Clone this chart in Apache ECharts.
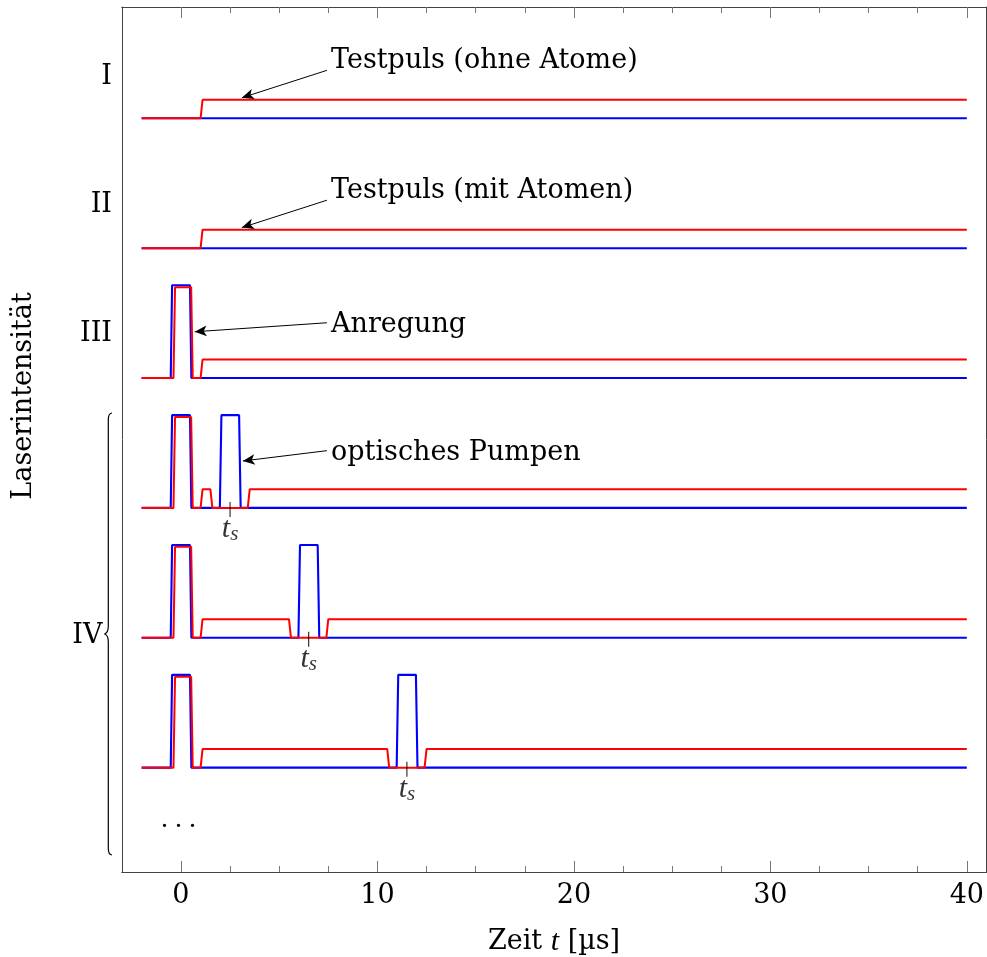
<!DOCTYPE html>
<html><head><meta charset="utf-8">
<script src="https://cdn.jsdelivr.net/npm/echarts@6/dist/echarts.min.js"></script>
<style>html,body{margin:0;padding:0;background:#fff}#c{width:987px;height:957px}</style>
</head><body><div id="c"></div>
<script>
const FONT = 'DejaVu Serif';
const MFONT = 'Liberation Serif';

// row baselines (vertical offsets of the six traces) and labels
const rowBase = [7, 5.6, 4.2, 2.8, 1.4, 0];
const rowNames = ['I', 'II', 'III', 'IV'];

// axis ticks
const xMajorTicks = [0, 10, 20, 30, 40];
const xMinorTicks = [2.5, 5, 7.5, 12.5, 15, 17.5, 22.5, 25, 27.5, 32.5, 35, 37.5];

// t_s marks: [time, row index]
const tsValues = [2.5, 6.5, 11.5];
const tsRows = [3, 4, 5];

// traces: [time in µs, intensity]
const redI   = [[-2,0],[1,0],[1.1,0.2],[40,0.2]];
const blueI  = [[-2,0],[40,0]];
const redII  = [[-2,0],[1,0],[1.1,0.2],[40,0.2]];
const blueII = [[-2,0],[40,0]];
const redIII = [[-2,0],[-0.38,0],[-0.3,0.98],[0.52,0.98],[0.6,0],[1,0],[1.1,0.2],[40,0.2]];
const blueIII= [[-2,0],[-0.52,0],[-0.45,1],[0.46,1],[0.53,0],[40,0]];
const redIVa = [[-2,0],[-0.38,0],[-0.3,0.98],[0.52,0.98],[0.6,0],[1,0],[1.1,0.2],[1.5,0.2],[1.6,0],[3.4,0],[3.5,0.2],[40,0.2]];
const blueIVa= [[-2,0],[-0.52,0],[-0.45,1],[0.46,1],[0.53,0],[1.98,0],[2.06,1],[2.96,1],[3.04,0],[40,0]];
const redIVb = [[-2,0],[-0.38,0],[-0.3,0.98],[0.52,0.98],[0.6,0],[1,0],[1.1,0.2],[5.5,0.2],[5.6,0],[7.4,0],[7.5,0.2],[40,0.2]];
const blueIVb= [[-2,0],[-0.52,0],[-0.45,1],[0.46,1],[0.53,0],[5.98,0],[6.06,1],[6.96,1],[7.04,0],[40,0]];
const redIVc = [[-2,0],[-0.38,0],[-0.3,0.98],[0.52,0.98],[0.6,0],[1,0],[1.1,0.2],[10.5,0.2],[10.6,0],[12.4,0],[12.5,0.2],[40,0.2]];
const blueIVc= [[-2,0],[-0.52,0],[-0.45,1],[0.46,1],[0.53,0],[10.98,0],[11.06,1],[11.96,1],[12.04,0],[40,0]];

const redTraces  = [redI, redII, redIII, redIVa, redIVb, redIVc];
const blueTraces = [blueI, blueII, blueIII, blueIVa, blueIVb, blueIVc];

// annotations: [from, to] in data coordinates, and their texts
const arrowLines = [
  [[7.43, 7.517], [3.1, 7.222]],
  [[7.43, 6.117], [3.1, 5.822]],
  [[7.43, 4.796], [0.7, 4.699]],
  [[7.43, 3.417], [3.15, 3.306]]
];
const annoTexts = ['Testpuls (ohne Atome)', 'Testpuls (mit Atomen)', 'Anregung', 'optisches Pumpen'];

const chart = echarts.init(document.getElementById('c'), null, {renderer: 'canvas'});

const series = [];
for (let i = 0; i < 6; i++) {
  series.push({
    type: 'line', data: blueTraces[i].map(p => [p[0], rowBase[i] + p[1]]),
    showSymbol: false, symbol: 'none', silent: true, animation: false,
    lineStyle: {color: '#0000ff', width: 2.1}, z: 2
  });
  series.push({
    type: 'line', data: redTraces[i].map(p => [p[0], rowBase[i] + p[1]]),
    showSymbol: false, symbol: 'none', silent: true, animation: false,
    lineStyle: {color: '#ff0000', width: 2}, z: 3
  });
}
series[1].markLine = {
  silent: true, animation: false,
  symbol: ['none', 'arrow'], symbolSize: [8, 12],
  lineStyle: {color: '#000', width: 1, type: 'solid'},
  label: {show: false}, emphasis: {disabled: true},
  data: arrowLines.map(l => [{coord: l[0]}, {coord: l[1]}])
};
series.push({
  type: 'scatter', silent: true, animation: false, z: 5,
  data: tsValues.map((t, k) => [t, rowBase[tsRows[k]]]),
  symbol: 'rect', symbolSize: [1.2, 15], symbolOffset: [0, 1.5],
  itemStyle: {color: '#000'},
  label: {
    show: true, position: 'bottom', distance: -3,
    formatter: '{t|t}{s|s}',
    rich: {
      t: {fontFamily: MFONT, fontStyle: 'italic', fontSize: 30, lineHeight: 28, verticalAlign: 'top', color: '#000'},
      s: {fontFamily: MFONT, fontStyle: 'italic', fontSize: 21, lineHeight: 20, verticalAlign: 'top', padding: [10, 0, 0, 0], color: '#000'}
    }
  }
});

const axisLineStyle = {color: '#444', width: 1};
const tickStyle = {color: '#777', width: 1};
function xAx(pos, ticks, len, labels) {
  return {
    type: 'value', min: -3, max: 41, position: pos,
    axisLine: {show: true, onZero: false, lineStyle: axisLineStyle},
    axisTick: {show: true, inside: true, length: len, customValues: ticks, lineStyle: tickStyle},
    axisLabel: labels ? {show: true, customValues: xMajorTicks, fontFamily: FONT, fontSize: 27, color: '#000', margin: 24, verticalAlign: 'middle'} : {show: false},
    splitLine: {show: false}
  };
}
function yAx(pos) {
  return {
    type: 'value', min: -1.125, max: 8.2, position: pos,
    axisLine: {show: true, onZero: false, lineStyle: axisLineStyle},
    axisTick: {show: false}, axisLabel: {show: false}, splitLine: {show: false}
  };
}

const txt = (text, x, y, align, extra) => Object.assign({
  type: 'text', x: x, y: y, silent: true, z: 10,
  style: {text: text, fontFamily: FONT, fontSize: 27, fill: '#000', align: align, verticalAlign: 'middle'}
}, extra || {});

const annoY = [61, 190.5, 324.5, 452.5];
const rowLabelPos = [[112, 77], [112, 205], [112, 334], [102.5, 636]];
const graphics = [];
annoTexts.forEach((t, i) => graphics.push(txt(t, 331, annoY[i], 'left')));
rowNames.forEach((t, i) => graphics.push(txt(t, rowLabelPos[i][0], rowLabelPos[i][1], 'right')));
graphics.push(txt('Laserintensität', 24, 396, 'center', {rotation: Math.PI / 2}));
graphics.push({
  type: 'text', x: 554, y: 942, silent: true, z: 10,
  style: {
    text: '{a|Zeit }{b|t}{a| [µs]}', align: 'center', verticalAlign: 'middle',
    rich: {
      a: {fontFamily: FONT, fontSize: 27, fill: '#000'},
      b: {fontFamily: MFONT, fontStyle: 'italic', fontSize: 30, fill: '#000'}
    }
  }
});
graphics.push({
  type: 'text', x: 178.5, y: 820, silent: true, z: 10,
  style: {text: '. . .', fontFamily: MFONT, fontSize: 28, fill: '#000', align: 'center', verticalAlign: 'middle'}
});
const braceStyle = {stroke: '#000', lineWidth: 1.2, fill: null};
const bx = 108.3, tipX = 104.5, hookX = 112, yTop = 413, yMid = 634, yBot = 855;
graphics.push(
  {type: 'bezierCurve', silent: true, shape: {x1: hookX, y1: yTop, cpx1: bx, cpy1: yTop, x2: bx, y2: yTop + 7}, style: braceStyle},
  {type: 'line', silent: true, shape: {x1: bx, y1: yTop + 7, x2: bx, y2: yMid - 8}, style: braceStyle},
  {type: 'bezierCurve', silent: true, shape: {x1: bx, y1: yMid - 8, cpx1: bx, cpy1: yMid - 1, x2: tipX, y2: yMid}, style: braceStyle},
  {type: 'bezierCurve', silent: true, shape: {x1: tipX, y1: yMid, cpx1: bx, cpy1: yMid + 1, x2: bx, y2: yMid + 8}, style: braceStyle},
  {type: 'line', silent: true, shape: {x1: bx, y1: yMid + 8, x2: bx, y2: yBot - 7}, style: braceStyle},
  {type: 'bezierCurve', silent: true, shape: {x1: bx, y1: yBot - 7, cpx1: bx, cpy1: yBot, x2: hookX, y2: yBot}, style: braceStyle}
);

chart.setOption({
  animation: false,
  backgroundColor: '#fff',
  grid: {left: 122, right: 0, top: 7, bottom: 85, containLabel: false},
  xAxis: [
    xAx('bottom', xMajorTicks, 11, true),
    xAx('bottom', xMinorTicks, 6, false),
    xAx('top', xMajorTicks, 11, false),
    xAx('top', xMinorTicks, 6, false)
  ],
  yAxis: [yAx('left'), yAx('right')],
  series: series,
  graphic: graphics
});
</script></body></html>
